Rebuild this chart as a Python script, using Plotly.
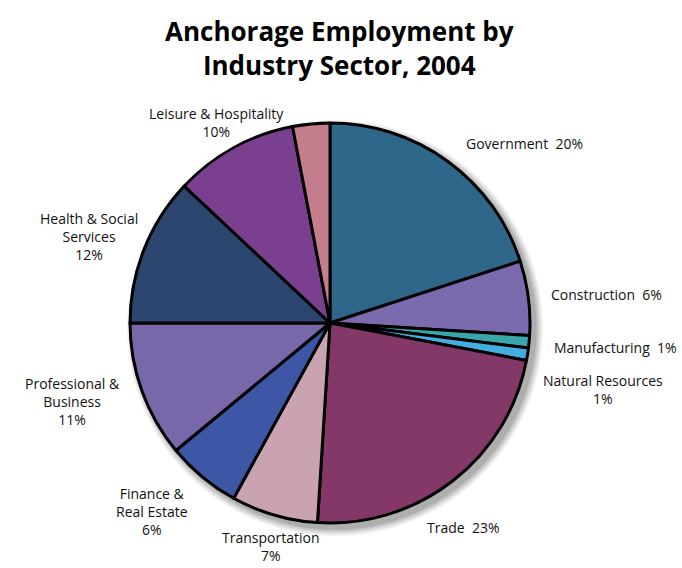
import plotly.graph_objects as go

# Employment share by sector, clockwise from 12 o'clock
sectors = [
    "Government", "Construction", "Manufacturing", "Natural Resources",
    "Trade", "Transportation", "Finance & Real Estate",
    "Professional & Business", "Health & Social Services",
    "Leisure & Hospitality", "Other",
]
shares = [20, 6, 1, 1, 23, 7, 6, 11, 12, 10, 3]
colors = [
    "#2e6789", "#7b6aad", "#3aa6aa", "#42aee0", "#833868", "#c9a3b2",
    "#3d57a6", "#7868aa", "#2c4670", "#7b3f8f", "#c47d8c",
]

# Label text per sector (None = unlabeled)
label_text = [
    "Government  {}%", "Construction  {}%", "Manufacturing  {}%",
    "Natural Resources<br>{}%", "Trade  {}%", "Transportation<br>{}%",
    "Finance &<br>Real Estate<br>{}%", "Professional &<br>Business<br>{}%",
    "Health & Social<br>Services<br>{}%", "Leisure & Hospitality<br>{}%", None,
]
# Label anchor points in pixels (x, y from top)
label_pos = [
    (524, 143), (606, 294), (615, 347), (603, 389), (464, 527), (270, 546),
    (152, 511), (72, 402), (89, 236), (216, 122), None,
]

W, H = 682, 568
cx, cy, r = 330, 323, 200


def px(x):
    return x / W


def py(y):
    return 1 - y / H


fig = go.Figure()
fig.add_trace(go.Pie(
    labels=sectors,
    values=shares,
    sort=False,
    direction="clockwise",
    rotation=0,
    marker=dict(colors=colors, line=dict(color="black", width=3)),
    textinfo="none",
    hoverinfo="label+percent",
    showlegend=False,
    domain=dict(x=[px(cx - r), px(cx + r)], y=[py(cy + r), py(cy - r)]),
))

# Soft drop shadow behind the pie
shapes = []
for i, op in enumerate([0.05, 0.06, 0.07, 0.08, 0.1]):
    grow = 8 - i * 1.6
    off = 5
    shapes.append(dict(
        type="circle", xref="paper", yref="paper", layer="below",
        x0=px(cx - r - grow + off), x1=px(cx + r + grow + off),
        y0=py(cy + r + grow + off), y1=py(cy - r - grow + off),
        fillcolor=f"rgba(0,0,0,{op})", line=dict(width=0),
    ))

annotations = []
for txt, pos, v in zip(label_text, label_pos, shares):
    if txt is None:
        continue
    annotations.append(dict(
        text=txt.format(v), x=px(pos[0]), y=py(pos[1]),
        xref="paper", yref="paper", xanchor="center", yanchor="middle",
        showarrow=False, align="center",
        font=dict(family="Open Sans", size=14, color="#111111"),
    ))

annotations.append(dict(
    text="<b>Anchorage Employment by<br>Industry Sector, 2004</b>",
    x=px(339), y=py(48), xref="paper", yref="paper",
    xanchor="center", yanchor="middle", showarrow=False, align="center",
    font=dict(family="Open Sans", size=26, color="black"),
))

fig.update_layout(
    width=W, height=H,
    margin=dict(l=0, r=0, t=0, b=0),
    paper_bgcolor="white", plot_bgcolor="white",
    shapes=shapes, annotations=annotations,
)

fig.write_html("out.html")
